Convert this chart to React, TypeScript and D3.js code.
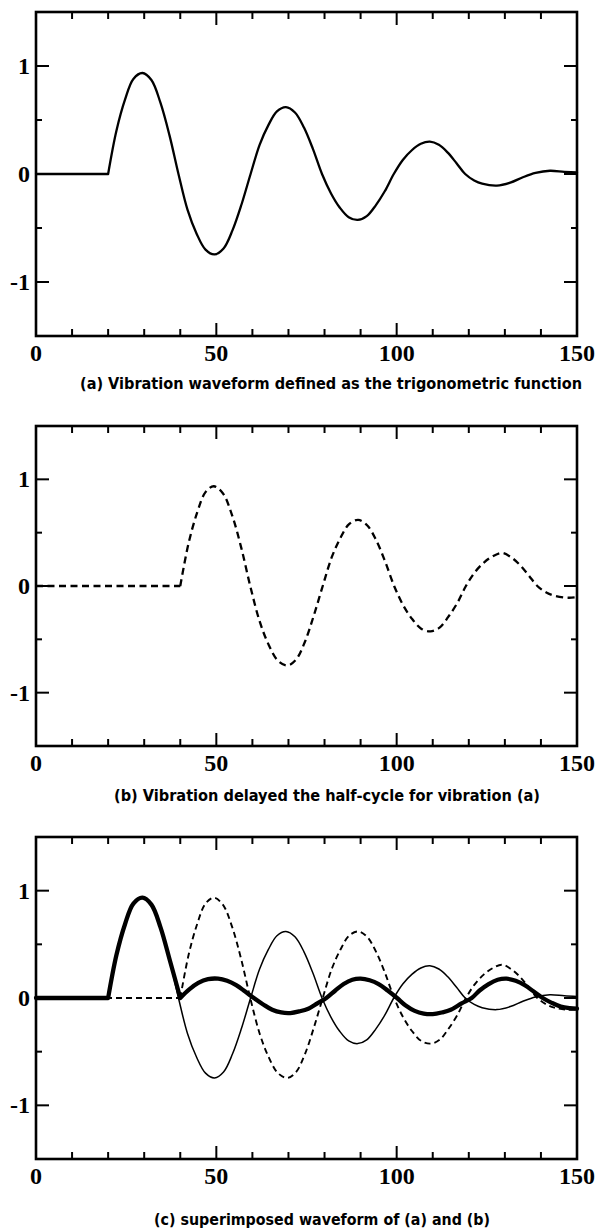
import React from 'react';
import * as d3 from 'd3';

// ---- data ----
const xMajorTicks = [0, 50, 100, 150];
const xMinorTicks = [10, 20, 30, 40, 60, 70, 80, 90, 110, 120, 130, 140];
const yMajorTicks = [-1, 0, 1];
const yMinorTicks = [-0.5, 0.5];
const xTickLabels = ['0', '50', '100', '150'];
const yTickLabels = ['-1', '0', '1'];

// (a) vibration waveform [time, amplitude]
const waveA: [number, number][] = [
  [0, 0], [20, 0], [22.3, 0.4], [24.7, 0.69], [27, 0.88], [29.5, 0.935], [32, 0.87], [34.5, 0.66], [37, 0.36], [39.5, 0],
  [42, -0.33], [44.5, -0.55], [47, -0.7], [49.5, -0.745], [52, -0.69], [54.5, -0.52], [57, -0.28], [59.5, 0],
  [62, 0.27], [64.4, 0.45], [66.8, 0.58], [69.3, 0.62], [71.8, 0.57], [74.3, 0.43], [76.8, 0.23], [79.3, 0],
  [81.8, -0.18], [84.2, -0.31], [86.7, -0.4], [89.2, -0.425], [91.7, -0.39], [94.2, -0.29], [96.7, -0.16], [99.2, 0],
  [101.7, 0.13], [104.2, 0.22], [106.7, 0.28], [109.2, 0.3], [111.7, 0.27], [114.1, 0.2], [116.6, 0.1], [119, 0],
  [121.5, -0.06], [123.7, -0.09], [127.8, -0.108], [131.5, -0.08], [135, -0.03], [138.5, 0.01],
  [142.5, 0.03], [146.5, 0.02], [150, 0.015],
];
const kinksA = [20];

// (b) delayed vibration
const waveB: [number, number][] = [
  [0, 0], [40, 0], [42.3, 0.4], [44.7, 0.69], [47, 0.88], [49.3, 0.935], [51.8, 0.87], [54.4, 0.66], [56.9, 0.36], [59.4, 0],
  [62, -0.33], [64.5, -0.55], [67.1, -0.7], [69.7, -0.745], [72.1, -0.69], [74.6, -0.52], [77, -0.28], [79.5, 0],
  [82, 0.27], [84.4, 0.45], [86.8, 0.58], [89.3, 0.62], [91.8, 0.57], [94.3, 0.43], [96.8, 0.23], [99.3, 0],
  [101.8, -0.18], [104.3, -0.31], [106.8, -0.4], [109.4, -0.425], [111.9, -0.39], [114.3, -0.29], [116.8, -0.16], [119.2, 0],
  [121.7, 0.13], [124.2, 0.22], [126.7, 0.28], [129.2, 0.31], [131.7, 0.27], [134.1, 0.2], [136.6, 0.1], [139, 0],
  [141.5, -0.06], [143.7, -0.09], [147.5, -0.11], [150, -0.105],
];
const kinksB = [40];

// (c) superimposed waveform (thick)
const waveSum: [number, number][] = [
  [0, 0], [20, 0], [22.3, 0.4], [24.7, 0.69], [27, 0.88], [29.5, 0.935], [32, 0.87], [34.5, 0.66], [37.2, 0.34], [40, 0],
  [42.5, 0.08], [45, 0.14], [47.7, 0.175], [50.5, 0.18], [53, 0.16], [55.5, 0.12], [58, 0.06], [60.4, 0],
  [63, -0.06], [65.5, -0.11], [68, -0.135], [70.5, -0.14], [73, -0.125], [75.5, -0.1], [78, -0.05], [80.5, 0],
  [83, 0.07], [85.3, 0.13], [87.7, 0.17], [90, 0.18], [92.5, 0.165], [95, 0.13], [97.5, 0.07], [100.1, 0],
  [102.5, -0.07], [105, -0.12], [107.5, -0.145], [110, -0.15], [112.5, -0.135], [115, -0.11], [118, -0.05], [120.8, 0],
  [123, 0.07], [125.5, 0.13], [128, 0.17], [130.5, 0.18], [133, 0.16], [135.5, 0.12], [138, 0.06], [140.5, 0],
  [143, -0.045], [145.5, -0.08], [148, -0.095], [150, -0.1],
];
const kinksSum = [20, 40];

const captions = [
  '(a) Vibration waveform defined as the trigonometric function',
  '(b) Vibration delayed the half-cycle for vibration (a)',
  '(c) superimposed waveform of (a) and (b)',
];

// ---- layout ----
const W = 602;
const H = 1230;
const X0 = 36;
const X1 = 577;
const panels = [
  { top: 12, bottom: 336, capX: 80, capW: 502, capY: 389 },
  { top: 426, bottom: 746, capX: 114, capW: 426, capY: 801 },
  { top: 837, bottom: 1159, capX: 154, capW: 336, capY: 1225 },
];

function split(data: [number, number][], kinks: number[]) {
  const b = [data[0][0], ...kinks, data[data.length - 1][0]];
  return b.slice(1).map((end, i) => data.filter((d) => d[0] >= b[i] && d[0] <= end));
}

type Series = { data: [number, number][]; kinks: number[]; width: number; dash?: string };

function Panel({ idx, series }: { idx: number; series: Series[] }) {
  const p = panels[idx];
  const x = d3.scaleLinear().domain([0, 150]).range([X0, X1]);
  const y = d3.scaleLinear().domain([-1.5, 1.5]).range([p.bottom, p.top]);
  const line = d3
    .line<[number, number]>()
    .x((d) => x(d[0]))
    .y((d) => y(d[1]))
    .curve(d3.curveCatmullRom.alpha(0.5));
  const tickStroke = 2;
  const serif = "'Liberation Serif', 'Times New Roman', serif";
  return (
    <g>
      {series.map((s, i) => (
        <path
          key={i}
          d={split(s.data, s.kinks).map((seg) => line(seg)).join('')}
          fill="none"
          stroke="#000"
          strokeWidth={s.width}
          strokeDasharray={s.dash}
          strokeLinecap={s.dash ? 'butt' : 'round'}
          strokeLinejoin="round"
        />
      ))}
      {xMajorTicks.slice(1, -1).map((t) => (
        <g key={'xM' + t}>
          <line x1={x(t)} x2={x(t)} y1={p.bottom} y2={p.bottom - 13} stroke="#000" strokeWidth={tickStroke} />
          <line x1={x(t)} x2={x(t)} y1={p.top} y2={p.top + 13} stroke="#000" strokeWidth={tickStroke} />
        </g>
      ))}
      {xMinorTicks.map((t) => (
        <g key={'xm' + t}>
          <line x1={x(t)} x2={x(t)} y1={p.bottom} y2={p.bottom - 7} stroke="#000" strokeWidth={tickStroke} />
          <line x1={x(t)} x2={x(t)} y1={p.top} y2={p.top + 7} stroke="#000" strokeWidth={tickStroke} />
        </g>
      ))}
      {yMajorTicks.map((t) => (
        <g key={'yM' + t}>
          <line x1={X0} x2={X0 + 13} y1={y(t)} y2={y(t)} stroke="#000" strokeWidth={tickStroke} />
          <line x1={X1} x2={X1 - 13} y1={y(t)} y2={y(t)} stroke="#000" strokeWidth={tickStroke} />
        </g>
      ))}
      {yMinorTicks.map((t) => (
        <g key={'ym' + t}>
          <line x1={X0} x2={X0 + 6} y1={y(t)} y2={y(t)} stroke="#000" strokeWidth={tickStroke} />
          <line x1={X1} x2={X1 - 6} y1={y(t)} y2={y(t)} stroke="#000" strokeWidth={tickStroke} />
        </g>
      ))}
      <rect x={X0} y={p.top} width={X1 - X0} height={p.bottom - p.top} fill="none" stroke="#000" strokeWidth={2.6} />
      {xMajorTicks.map((t, i) => (
        <text key={'xl' + t} x={x(t)} y={p.bottom + 25} textAnchor="middle" fontFamily={serif} fontWeight="bold" fontSize={24}>
          {xTickLabels[i]}
        </text>
      ))}
      {yMajorTicks.map((t, i) => (
        <text key={'yl' + t} x={30} y={y(t) + 8} textAnchor="end" fontFamily={serif} fontWeight="bold" fontSize={24}>
          {yTickLabels[i]}
        </text>
      ))}
      <text
        x={p.capX}
        y={p.capY}
        textLength={p.capW}
        lengthAdjust="spacingAndGlyphs"
        fontFamily="'DejaVu Sans Condensed', 'DejaVu Sans', sans-serif"
        fontWeight="bold"
        fontSize={16.5}
      >
        {captions[idx]}
      </text>
    </g>
  );
}

export default function App() {
  return (
    <svg
      width={W}
      height={H}
      viewBox={`0 0 ${W} ${H}`}
      style={{ position: 'absolute', left: 0, top: 0, display: 'block', background: '#fff' }}
    >
      <rect x={0} y={0} width={W} height={H} fill="#fff" />
      <Panel idx={0} series={[{ data: waveA, kinks: kinksA, width: 2.3 }]} />
      <Panel idx={1} series={[{ data: waveB, kinks: kinksB, width: 2.3, dash: '7 4.5' }]} />
      <Panel
        idx={2}
        series={[
          { data: waveA, kinks: kinksA, width: 1.5 },
          { data: waveB, kinks: kinksB, width: 1.9, dash: '6 4' },
          { data: waveSum, kinks: kinksSum, width: 4.3 },
        ]}
      />
    </svg>
  );
}
